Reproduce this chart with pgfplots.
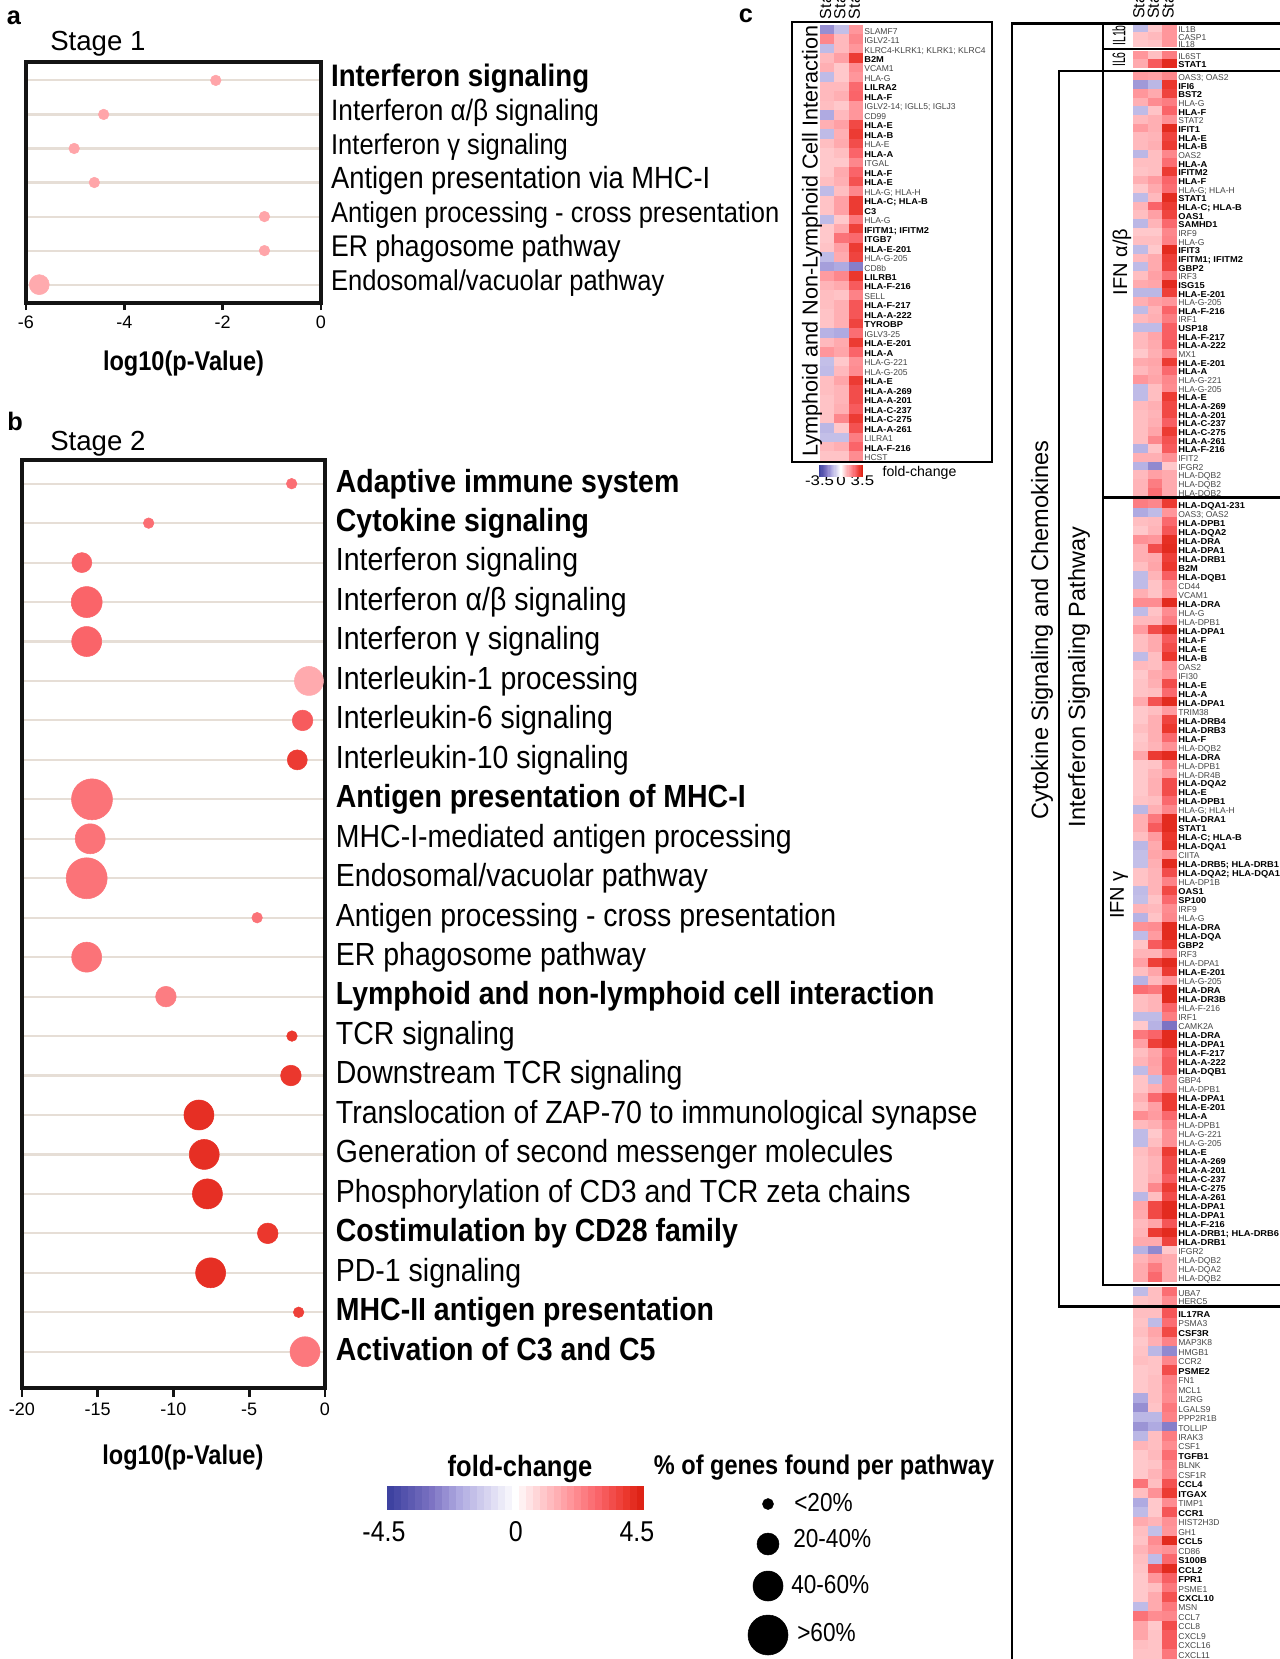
\documentclass[border=0pt]{standalone}
\usepackage{fontspec}
\usepackage{pgfplots}
\usepackage{pgfplotstable}
\pgfplotsset{compat=1.18}
\setmainfont{Liberation Sans}
\newfontfamily\cond[FakeStretch=0.89]{Liberation Sans}
\newfontfamily\condb[FakeStretch=0.87]{Liberation Sans}
\newfontfamily\narr[FakeStretch=0.58]{Liberation Sans}
\newfontfamily\wide[FakeStretch=1.2]{Liberation Sans}
\newfontfamily\gbold[FakeStretch=1.09]{Liberation Sans}
\newcommand\sz[1]{\fontsize{#1}{#1}\selectfont}
\newcommand\N[1]{{\color[rgb]{0.27,0.27,0.27}#1}}
\newcommand\B[1]{{\gbold\bfseries\color{black}#1}}
\pgfplotsset{colormap={hm}{rgb255(0pt)=(62,66,160) rgb255(15pt)=(125,115,195) rgb255(25pt)=(175,170,225) rgb255(45pt)=(255,255,255) rgb255(55pt)=(255,200,203) rgb255(65pt)=(255,150,155) rgb255(75pt)=(250,100,105) rgb255(85pt)=(235,55,45) rgb255(90pt)=(222,35,22)},
  point meta min=-4.5, point meta max=4.5}
\definecolor{rowline}{RGB}{230,222,214}
\def\cwv{1pt}\def\chv{1pt}
\pgfdeclareplotmark{cell}{\pgfpathrectangle{\pgfpoint{-\cwv}{-\chv}}{\pgfpoint{2*\cwv}{2*\chv}}\pgfusepathqfill}
\newcommand{\heatblock}[8]{%
 \pgfmathsetlengthmacro\cwv{(#4-#2)/3/2*0.75pt+0.05pt}%
 \pgfmathsetlengthmacro\chv{(#5-#3)/#6/2*0.75pt+0.05pt}%
 \begin{axis}[at={(#2*0.75pt,-#3*0.75pt)},anchor=north west,scale only axis,
  width={(#4-#2)*0.75pt},height={(#5-#3)*0.75pt},xmin=-0.5,xmax=2.5,ymin=-0.5,ymax={#6-0.5},y dir=reverse,
  clip=false,axis line style={draw=none},major tick length=0pt,tick style={draw=none},
  xtick=\empty,ytick={0,...,\the\numexpr#6-1\relax},yticklabels={#7},yticklabel pos=right,
  yticklabel style={font=\sz{6.4pt},anchor=west,inner sep=0pt,outer sep=0pt,xshift=1pt,text height=0.75em,text depth=0.1em},#8]
  \addplot[scatter,only marks,mark=cell,point meta=explicit] table[x expr=0,y expr=\coordindex,meta=a]{#1};
  \addplot[scatter,only marks,mark=cell,point meta=explicit] table[x expr=1,y expr=\coordindex,meta=b]{#1};
  \addplot[scatter,only marks,mark=cell,point meta=explicit] table[x expr=2,y expr=\coordindex,meta=c]{#1};
 \end{axis}}
\pgfplotsset{stagehead/.style={xtick={0,1,2},xticklabels={Stage 1,Stage 2,Stage 3},xticklabel pos=upper,
  xticklabel style={font=\sz{12pt},rotate=90,anchor=west,inner sep=0pt,outer sep=0pt,xshift=4.5pt}}}
\pgfplotsset{lolli/.style={anchor=north west,scale only axis,clip=false,xmax=0,y dir=reverse,
  axis line style={line width=2.8pt,color=black!92},
  ymajorgrids,grid style={color=rowline,line width=1.6pt},axis on top=false,
  xtick pos=lower,ytick pos=right,tick align=outside,
  xtick style={draw=black!92,line width=1.9pt},ytick style={draw=none},
  x tick label style={font=\sz{13.5pt},yshift=-1pt},
  xlabel style={font={\condb\bfseries\sz{20.3pt}}}}}
\newcommand\bubbles[1]{\addplot[scatter,only marks,mark=*,point meta=explicit,
  scatter/use mapped color={draw=mapped color,fill=mapped color},
  visualization depends on={\thisrow{r}*0.75 \as \perpointmarksize},
  scatter/@pre marker code/.append style={/tikz/mark size=\perpointmarksize}]
  table[x=x,y=y,meta=c]{#1};}
% ---------- bubbles
\pgfplotstableread{
x y r c
-2.14 0 5.3 1.7
-4.42 1 5.3 1.7
-5.02 2 5.3 1.7
-4.61 3 5.3 1.7
-1.15 4 5.3 1.7
-1.15 5 5.3 1.7
-5.73 6 10 1.6
}\tblA
\pgfplotstableread{
x y r c
-2.2 0 5.3 2.8
-11.64 1 5.3 2.8
-16.05 2 10 3
-15.73 3 15.5 3
-15.73 4 15 3
-1.06 5 14.5 1.6
-1.48 6 10.3 3.2
-1.83 7 10 3.9
-15.38 8 20.5 2.7
-15.5 9 15 2.7
-15.73 10 20.5 2.7
-4.48 11 5.3 2.7
-15.73 12 15 2.7
-10.5 13 10.3 2.5
-2.18 14 5.3 4
-2.25 15 10.3 4
-8.32 16 15 4.2
-7.97 17 15 4.2
-7.76 18 15 4.2
-3.78 19 10.3 4
-7.55 20 15 4.2
-1.74 21 5.3 3.8
-1.32 22 15 2.6
}\tblB
% ---------- heat tables
\pgfplotstableread{
a b c
-2.5 -1.5 2
2.3 1.3 2.3
-1.6 1.3 2
1.3 1.8 3.9
1.5 1 2.2
-1.6 1 2
1.3 1.3 2.9
1.3 1.5 3
1.2 1 2
-2 1.3 2
1.5 1.8 3.6
-1.6 1.5 3.9
1.2 1.6 3.5
1 1.2 3
1 1 2.3
1 1.6 3
1.2 1.5 3.4
-1.6 1.2 2.3
1.1 1.8 3.9
1.1 1.8 3.9
-1.6 1 2.6
1 1.6 3.8
1 2.7 2.9
1.1 1.8 3.9
-1.6 1.6 3.7
-2.2 -2 -2.8
1.9 2.3 4
1.4 1.6 3.2
1.2 1.1 2.4
1.2 1.5 3.3
1.1 1.5 3.3
1.1 1.5 3.7
-1.8 -2 2.8
1.3 1.6 3.9
2 1.7 3
-1.5 1 2.1
-1.6 1.3 2.2
1.2 1.7 3.9
1.2 1.4 3.5
1.1 1.4 3.5
1.1 1.5 3.2
1.1 2.3 3.9
-1.7 1 3.4
-1.5 -1.5 2.5
1.3 1.5 3
1.1 1.1 2.2
}\tblL
\pgfplotstableread{
a b c
-1.6 1 2
1.1 1.3 2
1 1.1 2
}\tblRa
\pgfplotstableread{
a b c
2 1.2 2.5
1.6 3.2 4.3
}\tblRb
\pgfplotstableread{
a b c
1.9 1.8 2.3
-2.3 -1.7 4
2 1.6 3.7
1.5 2.2 2.5
-1.6 1.1 3
1.3 1.5 2.1
1.9 1.5 4.3
1.3 1.4 3.7
1.3 1.5 3.9
-1.7 1.2 2.3
1.2 1.2 2.8
1.1 1.2 3.9
1.5 1.9 3
1 1.6 2.8
-1.6 1.3 4.3
1.4 3 3.9
1.2 1.8 3.7
-1.7 1.4 2.9
1 1 2.3
1.2 1.2 2.4
-1.6 1 4.3
1.3 1.6 3.8
-1.6 1.6 3.7
1.2 1.8 2.7
1.6 1.7 4.3
-1.7 -1.7 3.8
1.5 1.8 2
-1.6 1.4 3
1.3 1.5 2.5
-1.6 -1.6 3.1
1.3 1.7 3.1
1.3 1.6 3.2
1 1.5 2.3
1.6 1.7 3.9
1.3 1.6 2.9
2 1.7 2.3
-1.6 1.2 2.2
-1.6 1.2 3.9
1.3 1.5 3.6
1.2 1.4 3.6
1.2 1.5 3.1
1.2 1.7 3.9
1.2 2.3 3.4
-1.8 1.1 3.2
1.5 1.5 2.1
-1.8 -2.6 1
1.3 1.8 1.6
1.4 2.5 1.6
1.4 2.8 1.6
}\tblRc
\pgfplotstableread{
a b c
2.5 2.3 3.9
-2 -1.6 2
1.2 1.3 2.9
1 1.4 3.3
2.1 2 4.2
1.5 3.5 4.3
1.5 1.6 3.8
1.2 1.7 4
-1.6 1.4 3.1
-1.6 1.1 2.1
1.5 1.1 2
2.2 2.2 4.3
-1.6 1.1 2.2
1.3 1.3 2.5
1.9 3.5 4.3
1.2 1.6 3.2
1.2 1.6 3.5
-1.6 1.2 4
1.3 1.2 2.2
1 1.6 2
1.1 1.5 3.5
1.1 1.2 2.9
1.6 3.4 4.3
1 1.2 1.9
1 1.5 3.7
1.2 1.5 4
1 1.5 2.9
1.1 1.4 2.1
1.7 3.9 4.3
1 1.1 2.4
1 1.4 1.9
1 1.5 3.5
1 1.5 3.5
1.1 1.2 2.9
-1.7 1.5 2.3
1.5 2.6 4.3
1.5 3.2 4.3
1.2 1.9 4
-1.7 1.6 4.1
-1.5 1.7 2.1
-1.5 1.5 4.3
1.1 1.4 3.5
1.1 1.4 2.4
-1.6 1.4 3.6
-1.5 1.1 2.9
1.4 1.3 2.2
-1.8 1.1 2.3
2.1 2.2 4.3
-1.6 1.9 4.3
1.1 3.2 4
1.4 1.4 2.4
1.8 3.8 4.3
1.2 1.7 3.9
-1.8 1.3 2
2.8 2.6 4.3
1.2 1.4 4.3
1.2 1.4 3
-1.6 -1.6 2.5
1 -1.8 -3
2.6 3 4.3
1.8 3.8 4.3
1.2 1.7 3
1.4 1.8 3.2
-1.6 1.7 3.2
1.1 -1.6 2.4
1.1 1.5 2.4
1.5 2.9 3.9
1.2 1.8 3.9
2.2 1.9 2.9
1.3 1.5 2.4
-1.6 1 2.1
-1.6 1.2 2.1
1.2 1.6 3.9
1.1 1.4 3.5
1.1 1.4 3.5
1.1 1.5 3.1
1.1 2.3 3.9
-1.7 1.2 3.5
1.7 3.6 4.3
1.6 3.6 4.3
1.3 1.7 3.3
1.4 3.9 4.3
1.6 1.6 3.7
-1.8 -2.6 1
1.4 1.8 1.6
1.6 2.5 1.6
1.6 2.9 1.6
}\tblRd
\pgfplotstableread{
a b c
-1.6 1.2 2.8
1.1 1.2 2.2
}\tblRe
\pgfplotstableread{
a b c
1.2 1.2 3.3
1.1 -1.6 2.8
1.2 1.7 3.6
1 1.5 2.4
1.1 -1.7 -2.6
1.2 1.1 2.3
1 1.1 3.5
1 1.2 2.4
1 1.2 2.3
-2 1.2 2.2
-2.5 1.1 2.6
-1.7 -1.7 2.4
-2.4 -2 -2.8
-1.7 1.2 2.5
1.4 1.2 2.2
1 1.3 2.8
1 1.1 2.4
1 1.4 2.3
2.7 1.2 3.4
1.2 2.1 3.9
-2 1 2.2
-1.6 1 3.3
1.6 1.4 2.1
1.2 -1.5 2
1.1 2.2 4.3
1.4 1.9 2.1
1.2 -1.6 2.9
1.1 3.3 4.3
1 2 3.1
1 1.2 2.6
1 1.6 3.4
-1.6 1.6 2.6
2.7 2.2 2.3
1.7 1 3.5
1.7 1.1 3.2
1.2 1.1 3.2
1.1 1.1 2.6
}\tblRf
% colour scale values
\pgfplotstableread{
v w
-4.5 0
-4.25 0
-4 0
-3.75 0
-3.5 0
-3.25 0
-3 0
-2.75 0
-2.5 0
-2.25 0
-2 0
-1.75 0
-1.5 0
-1.25 0
-1 0
-0.75 0
-0.5 0
-0.25 0
0 0
0.25 0
0.5 0
0.75 0
1 0
1.25 0
1.5 0
1.75 0
2 0
2.25 0
2.5 0
2.75 0
3 0
3.25 0
3.5 0
3.75 0
4 0
4.25 0
4.5 0
}\tblScale
\pgfplotstableread{
x y r
768 1504 5.5
768 1544 11
768 1586 15
768 1635 20
}\tblSize
\begin{document}
\begin{tikzpicture}
% ---------------- panel a
\begin{axis}[lolli,at={(26*0.75pt,-62*0.75pt)},width={295*0.75pt},height={240.7*0.75pt},
  xmin=-6,ymin=-0.54,ymax=6.53,major tick length=5.6pt,
  xtick={-6,-4,-2,0},xticklabels={-6,-4,-2,0},
  ytick={0,...,6},yticklabels={{\sz{23.3pt}\textbf{Interferon signaling}},{\sz{22.1pt}Interferon α/β signaling},Interferon γ signaling,{\sz{23pt}Antigen presentation via MHC-I},Antigen processing - cross presentation,{\sz{22.4pt}ER phagosome pathway},Endosomal/vacuolar pathway},
  yticklabel style={font={\cond\sz{21.5pt}},anchor=west,inner sep=0pt,outer sep=0pt,xshift=2pt,yshift=-2pt,text height=0.75em,text depth=0.2em},
  xlabel={log10(p-Value)},xlabel style={at={(axis description cs:0.534,0)},anchor=center,yshift=-46pt}]
 \bubbles{\tblA}
\end{axis}
% ---------------- panel b
\begin{axis}[lolli,at={(22*0.75pt,-460*0.75pt)},width={303*0.75pt},height={928*0.75pt},
  xmin=-20,ymin=-0.6,ymax=22.92,major tick length=6.5pt,
  xtick={-20,-15,-10,-5,0},xticklabels={-20,-15,-10,-5,0},
  ytick={0,...,22},yticklabels={\textbf{Adaptive immune system},\textbf{Cytokine signaling},Interferon signaling,Interferon α/β signaling,Interferon γ signaling,Interleukin-1 processing,Interleukin-6 signaling,Interleukin-10 signaling,\textbf{Antigen presentation of MHC-I},MHC-I-mediated antigen processing,Endosomal/vacuolar pathway,Antigen processing - cross presentation,ER phagosome pathway,\textbf{Lymphoid and non-lymphoid cell interaction},TCR signaling,Downstream TCR signaling,Translocation of ZAP-70 to immunological synapse,Generation of second messenger molecules,Phosphorylation of CD3 and TCR zeta chains,\textbf{Costimulation by CD28 family},PD-1 signaling,\textbf{MHC-II antigen presentation},\textbf{Activation of C3 and C5}},
  yticklabel style={font={\cond\sz{24pt}},anchor=west,inner sep=0pt,outer sep=0pt,xshift=1.7pt,yshift=-3.5pt,text height=0.75em,text depth=0.2em},
  xlabel={log10(p-Value)},xlabel style={at={(axis description cs:0.531,0)},anchor=center,yshift=-52.5pt}]
 \bubbles{\tblB}
\end{axis}
% ---------------- large colour scale
\pgfmathsetlengthmacro\cwv{257/37/2*0.75pt+0.05pt}\pgfmathsetlengthmacro\chv{12*0.75pt}
\begin{axis}[at={(382*0.75pt,-1486*0.75pt)},anchor=north west,scale only axis,width={262*0.75pt},height={24*0.75pt},
  xmin=-4.8,xmax=4.625,ymin=-1,ymax=1,clip=false,axis line style={draw=none},tick style={draw=none},
  ytick=\empty,xtick={-4.73,0.015,4.37},xticklabels={-4.5,0,4.5},
  xticklabel style={font={\condb\sz{21.5pt}},inner sep=0pt,yshift=-8.5pt}]
 \addplot[scatter,only marks,mark=cell,point meta=explicit] table[x=v,y=w,meta=v]{\tblScale};
\end{axis}
% ---------------- small colour scale
\pgfmathsetlengthmacro\cwv{44/37/2*0.75pt+0.05pt}\pgfmathsetlengthmacro\chv{6*0.75pt}
\begin{axis}[at={(819*0.75pt,-465*0.75pt)},anchor=north west,scale only axis,width={44*0.75pt},height={12*0.75pt},
  xmin=-4.625,xmax=4.625,ymin=-1,ymax=1,clip=false,axis line style={draw=none},tick style={draw=none},
  ytick=\empty,xtick={-4.5,0,4.5},xticklabels={-3.5,0,3.5},
  xticklabel style={font={\wide\sz{10.5pt}},inner sep=0pt,yshift=1pt}]
 \addplot[scatter,only marks,mark=cell,point meta=explicit] table[x=v,y=w,meta=v]{\tblScale};
\end{axis}
% ---------------- size legend
\begin{axis}[at={(718*0.75pt,-1480*0.75pt)},anchor=north west,scale only axis,width={100*0.75pt},height={179*0.75pt},
  xmin=718,xmax=818,ymin=1480,ymax=1659,y dir=reverse,hide axis,clip=false]
 \addplot[scatter,only marks,mark=*,point meta=explicit,scatter/use mapped color={draw=black,fill=black},
  visualization depends on={\thisrow{r}*0.75 \as \perpointmarksize},
  scatter/@pre marker code/.append style={/tikz/mark size=\perpointmarksize}]
  table[x=x,y=y,meta=r]{\tblSize};
 \node[anchor=west,inner sep=0pt,font={\condb\sz{19.5pt}}] at (axis cs:794,1502.5) {<20\%};
 \node[anchor=west,inner sep=0pt,font={\condb\sz{19.5pt}}] at (axis cs:793,1539) {20-40\%};
 \node[anchor=west,inner sep=0pt,font={\condb\sz{19.5pt}}] at (axis cs:791,1585) {40-60\%};
 \node[anchor=west,inner sep=0pt,font={\condb\sz{19.5pt}}] at (axis cs:797,1633) {>60\%};
\end{axis}
% ---------------- heat maps
\heatblock{\tblL}{820}{25}{863}{461}{46}{\N{SLAMF7},\N{IGLV2-11},\N{KLRC4-KLRK1; KLRK1; KLRC4},\B{B2M},\N{VCAM1},\N{HLA-G},\B{LILRA2},\B{HLA-F},\N{IGLV2-14; IGLL5; IGLJ3},\N{CD99},\B{HLA-E},\B{HLA-B},\N{HLA-E},\B{HLA-A},\N{ITGAL},\B{HLA-F},\B{HLA-E},\N{HLA-G; HLA-H},\B{HLA-C; HLA-B},\B{C3},\N{HLA-G},\B{IFITM1; IFITM2},\B{ITGB7},\B{HLA-E-201},\N{HLA-G-205},\N{CD8b},\B{LILRB1},\B{HLA-F-216},\N{SELL},\B{HLA-F-217},\B{HLA-A-222},\B{TYROBP},\N{IGLV3-25},\B{HLA-E-201},\B{HLA-A},\N{HLA-G-221},\N{HLA-G-205},\B{HLA-E},\B{HLA-A-269},\B{HLA-A-201},\B{HLA-C-237},\B{HLA-C-275},\B{HLA-A-261},\N{LILRA1},\B{HLA-F-216},\N{HCST}}{stagehead}
\heatblock{\tblRa}{1133}{25}{1177}{47}{3}{\N{IL1B},\N{CASP1},\N{IL18}}{stagehead}
\heatblock{\tblRb}{1133}{50.6}{1177}{68}{2}{\N{IL6ST},\B{STAT1}}{}
\heatblock{\tblRc}{1133}{71.7}{1177}{496.3}{49}{\N{OAS3; OAS2},\B{IFI6},\B{BST2},\N{HLA-G},\B{HLA-F},\N{STAT2},\B{IFIT1},\B{HLA-E},\B{HLA-B},\N{OAS2},\B{HLA-A},\B{IFITM2},\B{HLA-F},\N{HLA-G; HLA-H},\B{STAT1},\B{HLA-C; HLA-B},\B{OAS1},\B{SAMHD1},\N{IRF9},\N{HLA-G},\B{IFIT3},\B{IFITM1; IFITM2},\B{GBP2},\N{IRF3},\B{ISG15},\B{HLA-E-201},\N{HLA-G-205},\B{HLA-F-216},\N{IRF1},\B{USP18},\B{HLA-F-217},\B{HLA-A-222},\N{MX1},\B{HLA-E-201},\B{HLA-A},\N{HLA-G-221},\N{HLA-G-205},\B{HLA-E},\B{HLA-A-269},\B{HLA-A-201},\B{HLA-C-237},\B{HLA-C-275},\B{HLA-A-261},\B{HLA-F-216},\N{IFIT2},\N{IFGR2},\N{HLA-DQB2},\N{HLA-DQB2},\N{HLA-DQB2}}{}
\heatblock{\tblRd}{1133}{499.5}{1177}{1281.5}{87}{\B{HLA-DQA1-231},\N{OAS3; OAS2},\B{HLA-DPB1},\B{HLA-DQA2},\B{HLA-DRA},\B{HLA-DPA1},\B{HLA-DRB1},\B{B2M},\B{HLA-DQB1},\N{CD44},\N{VCAM1},\B{HLA-DRA},\N{HLA-G},\N{HLA-DPB1},\B{HLA-DPA1},\B{HLA-F},\B{HLA-E},\B{HLA-B},\N{OAS2},\N{IFI30},\B{HLA-E},\B{HLA-A},\B{HLA-DPA1},\N{TRIM38},\B{HLA-DRB4},\B{HLA-DRB3},\B{HLA-F},\N{HLA-DQB2},\B{HLA-DRA},\N{HLA-DPB1},\N{HLA-DR4B},\B{HLA-DQA2},\B{HLA-E},\B{HLA-DPB1},\N{HLA-G; HLA-H},\B{HLA-DRA1},\B{STAT1},\B{HLA-C; HLA-B},\B{HLA-DQA1},\N{CIITA},\B{HLA-DRB5; HLA-DRB1},\B{HLA-DQA2; HLA-DQA1},\N{HLA-DP1B},\B{OAS1},\B{SP100},\N{IRF9},\N{HLA-G},\B{HLA-DRA},\B{HLA-DQA},\B{GBP2},\N{IRF3},\N{HLA-DPA1},\B{HLA-E-201},\N{HLA-G-205},\B{HLA-DRA},\B{HLA-DR3B},\N{HLA-F-216},\N{IRF1},\N{CAMK2A},\B{HLA-DRA},\B{HLA-DPA1},\B{HLA-F-217},\B{HLA-A-222},\B{HLA-DQB1},\N{GBP4},\N{HLA-DPB1},\B{HLA-DPA1},\B{HLA-E-201},\B{HLA-A},\N{HLA-DPB1},\N{HLA-G-221},\N{HLA-G-205},\B{HLA-E},\B{HLA-A-269},\B{HLA-A-201},\B{HLA-C-237},\B{HLA-C-275},\B{HLA-A-261},\B{HLA-DPA1},\B{HLA-DPA1},\B{HLA-F-216},\B{HLA-DRB1; HLA-DRB6},\B{HLA-DRB1},\N{IFGR2},\N{HLA-DQB2},\N{HLA-DQA2},\N{HLA-DQB2}}{}
\heatblock{\tblRe}{1133}{1287.5}{1177}{1304.5}{2}{\N{UBA7},\N{HERC5}}{}
\heatblock{\tblRf}{1133}{1308.3}{1177}{1658.7}{37}{\B{IL17RA},\N{PSMA3},\B{CSF3R},\N{MAP3K8},\N{HMGB1},\N{CCR2},\B{PSME2},\N{FN1},\N{MCL1},\N{IL2RG},\N{LGALS9},\N{PPP2R1B},\N{TOLLIP},\N{IRAK3},\N{CSF1},\B{TGFB1},\N{BLNK},\N{CSF1R},\B{CCL4},\B{ITGAX},\N{TIMP1},\B{CCR1},\N{HIST2H3D},\N{GH1},\B{CCL5},\N{CD86},\B{S100B},\B{CCL2},\B{FPR1},\N{PSME1},\B{CXCL10},\N{MSN},\N{CCL7},\N{CCL8},\N{CXCL9},\N{CXCL16},\N{CXCL11}}{}
% ---------------- frames and texts, in reference pixels
\begin{scope}[x=0.75pt,y=-0.75pt]
 \draw[line width=1.9pt,black] (792,22) rectangle (992,462);
 \draw[line width=1.6pt,black] (1281,23.5)--(1012,23.5)--(1012,1662);
 \draw[line width=1.6pt,black] (1281,1306.5)--(1059,1306.5)--(1059,71)--(1281,71);
 \draw[line width=1.6pt,black] (1103,23.5)--(1103,1285)--(1281,1285);
 \draw[line width=1.6pt,black] (1103,49)--(1281,49);
 \draw[line width=1.6pt,black] (1103,497.5)--(1281,497.5);
 \node[anchor=center,font=\bfseries\sz{19pt}] at (14,18) {a};
 \node[anchor=center,font=\bfseries\sz{19pt}] at (15,421) {b};
 \node[anchor=center,font=\bfseries\sz{19pt}] at (746,16) {c};
 \node[anchor=west,inner sep=0pt,font=\sz{20.7pt}] at (50,44) {Stage 1};
 \node[anchor=west,inner sep=0pt,font=\sz{20.7pt}] at (50,444) {Stage 2};
 \node[anchor=center,rotate=90,font=\sz{16.2pt}] at (812,241) {Lymphoid and Non-Lymphoid Cell Interaction};
 \node[anchor=center,rotate=90,font=\sz{17.7pt}] at (1042,630) {Cytokine Signaling and Chemokines};
 \node[anchor=center,rotate=90,font=\sz{17.6pt}] at (1079,677) {Interferon Signaling Pathway};
 \node[anchor=center,rotate=90,font=\sz{15pt}] at (1122,262) {IFN α/β};
 \node[anchor=center,rotate=90,font=\sz{15pt}] at (1119,895) {IFN γ};
 \node[anchor=center,rotate=90,font={\narr\sz{13.5pt}}] at (1119,35.5) {IL1b};
 \node[anchor=center,rotate=90,font={\narr\sz{13.5pt}}] at (1119,59.5) {IL6};
 \node[anchor=center,font=\sz{10.6pt}] at (919.5,473) {fold-change};
 \node[anchor=center,font={\condb\bfseries\sz{22pt}}] at (520,1469) {fold-change};
 \node[anchor=center,font={\condb\bfseries\sz{20.3pt}}] at (824,1468) {\% of genes found per pathway};
 \pgfresetboundingbox
 \path[use as bounding box] (0,0) rectangle (1280,1659);
\end{scope}
\end{tikzpicture}
\end{document}
